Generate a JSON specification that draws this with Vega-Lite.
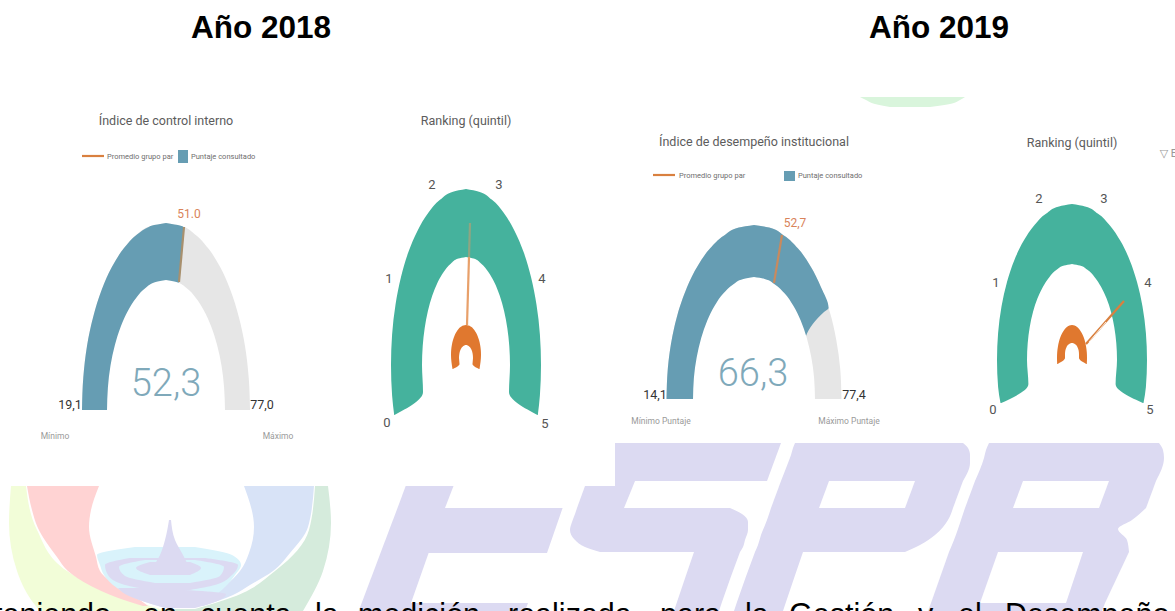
{"$schema":"https://vega.github.io/schema/vega-lite/v6.json","width":1175,"height":611,"padding":0,"autosize":{"type":"none"},"background":"white","config":{"view":{"stroke":null}},
"resolve":{"scale":{"color":"independent"}},
"encoding":{"x":{"field":"x","type":"quantitative","axis":null,"scale":{"domain":[0,1175],"nice":false,"zero":false}},"y":{"field":"y","type":"quantitative","axis":null,"scale":{"domain":[0,611],"reverse":true,"nice":false,"zero":false}}},
"layer":[
{"data":{"values":[
{"f":"sliver","t":"verdeclaro","y":97,"x":860,"x2":965},{"f":"sliver","t":"verdeclaro","y":100,"x":866,"x2":960},{"f":"sliver","t":"verdeclaro","y":104,"x":875,"x2":950},{"f":"sliver","t":"verdeclaro","y":107,"x":890,"x2":930},
{"f":"e1","t":"lavanda","y":486,"x":405.7,"x2":453.5},{"f":"e1","t":"lavanda","y":508,"x":397.5,"x2":445},
{"f":"e2","t":"lavanda","y":508,"x":397.5,"x2":562.6},{"f":"e2","t":"lavanda","y":553,"x":380.5,"x2":547},
{"f":"e3","t":"lavanda","y":553,"x":380.5,"x2":428.6},{"f":"e3","t":"lavanda","y":603,"x":361.7,"x2":411},
{"f":"e4","t":"lavanda","y":603,"x":361.7,"x2":528},{"f":"e4","t":"lavanda","y":611,"x":358.6,"x2":525},
{"f":"s1","t":"lavanda","y":443,"x":615,"x2":781},{"f":"s1","t":"lavanda","y":481,"x":615,"x2":767},
{"f":"s2","t":"lavanda","y":481,"x":615,"x2":635},{"f":"s2","t":"lavanda","y":486,"x":615,"x2":633},
{"f":"s3","t":"lavanda","y":486,"x":585,"x2":633},{"f":"s3","t":"lavanda","y":508,"x":577,"x2":624},
{"f":"s4","t":"lavanda","y":508,"x":577,"x2":730},{"f":"s4","t":"lavanda","y":514,"x":575,"x2":742},{"f":"s4","t":"lavanda","y":522,"x":572,"x2":748},{"f":"s4","t":"lavanda","y":530,"x":570,"x2":748},{"f":"s4","t":"lavanda","y":540,"x":575,"x2":745},{"f":"s4","t":"lavanda","y":547,"x":585,"x2":743},{"f":"s4","t":"lavanda","y":552,"x":600,"x2":740},
{"f":"s5","t":"lavanda","y":552,"x":694,"x2":740},{"f":"s5","t":"lavanda","y":602,"x":677,"x2":722},{"f":"s5","t":"lavanda","y":611,"x":674,"x2":719},
{"f":"p1","t":"lavanda","y":443,"x":795,"x2":963},{"f":"p1","t":"lavanda","y":448,"x":793,"x2":968},{"f":"p1","t":"lavanda","y":455,"x":791,"x2":970},{"f":"p1","t":"lavanda","y":463,"x":788,"x2":970},{"f":"p1","t":"lavanda","y":481,"x":781,"x2":963},
{"f":"p2","t":"lavanda","y":481,"x":781,"x2":829},{"f":"p2","t":"lavanda","y":508,"x":771,"x2":819},
{"f":"p3","t":"lavanda","y":481,"x":915,"x2":963},{"f":"p3","t":"lavanda","y":508,"x":905,"x2":953},
{"f":"p4","t":"lavanda","y":508,"x":771,"x2":953},{"f":"p4","t":"lavanda","y":520,"x":767,"x2":948},{"f":"p4","t":"lavanda","y":535,"x":761,"x2":935},{"f":"p4","t":"lavanda","y":545,"x":758,"x2":920},{"f":"p4","t":"lavanda","y":552,"x":755,"x2":905},
{"f":"p5","t":"lavanda","y":552,"x":755,"x2":803},{"f":"p5","t":"lavanda","y":602,"x":737,"x2":786},{"f":"p5","t":"lavanda","y":611,"x":734,"x2":783},
{"f":"b1","t":"lavanda","y":443,"x":989,"x2":1159},{"f":"b1","t":"lavanda","y":450,"x":986,"x2":1163},{"f":"b1","t":"lavanda","y":458,"x":984,"x2":1164},{"f":"b1","t":"lavanda","y":481,"x":975,"x2":1156},
{"f":"b2","t":"lavanda","y":481,"x":975,"x2":1023},{"f":"b2","t":"lavanda","y":508,"x":965,"x2":1013},
{"f":"b3","t":"lavanda","y":481,"x":1109,"x2":1156},{"f":"b3","t":"lavanda","y":508,"x":1099,"x2":1146},
{"f":"b4","t":"lavanda","y":508,"x":965,"x2":1146},{"f":"b4","t":"lavanda","y":520,"x":961,"x2":1132},{"f":"b4","t":"lavanda","y":529,"x":958,"x2":1118},{"f":"b4","t":"lavanda","y":540,"x":954,"x2":1127},{"f":"b4","t":"lavanda","y":552,"x":949,"x2":1129},
{"f":"b5","t":"lavanda","y":552,"x":949,"x2":998},{"f":"b5","t":"lavanda","y":603,"x":931,"x2":980},
{"f":"b6","t":"lavanda","y":552,"x":1083,"x2":1129},{"f":"b6","t":"lavanda","y":603,"x":1066,"x2":1105},
{"f":"b7","t":"lavanda","y":603,"x":931,"x2":1105},{"f":"b7","t":"lavanda","y":611,"x":928,"x2":1102},
{"f":"la","t":"amarillo","y":486,"x":11,"x2":170},{"f":"la","t":"amarillo","y":523,"x":9,"x2":170},{"f":"la","t":"amarillo","y":571,"x":17,"x2":170},{"f":"la","t":"amarillo","y":605,"x":35,"x2":170},{"f":"la","t":"amarillo","y":611,"x":40,"x2":170},
{"f":"lb","t":"verdelogo","y":486,"x":170,"x2":328},{"f":"lb","t":"verdelogo","y":523,"x":170,"x2":331},{"f":"lb","t":"verdelogo","y":571,"x":170,"x2":323},{"f":"lb","t":"verdelogo","y":611,"x":170,"x2":303},
{"f":"lc","t":"blanco","y":486,"x":26,"x2":315},{"f":"lc","t":"blanco","y":530,"x":37,"x2":309},{"f":"lc","t":"blanco","y":571,"x":67,"x2":275},{"f":"lc","t":"blanco","y":597,"x":122,"x2":233},{"f":"lc","t":"blanco","y":609,"x":160,"x2":195},
{"f":"ld","t":"rosa","y":486,"x":27,"x2":99},{"f":"ld","t":"rosa","y":510,"x":32,"x2":91},{"f":"ld","t":"rosa","y":527,"x":37.5,"x2":89},{"f":"ld","t":"rosa","y":557,"x":57,"x2":96},{"f":"ld","t":"rosa","y":571,"x":68,"x2":100},{"f":"ld","t":"rosa","y":586,"x":91,"x2":117},{"f":"ld","t":"rosa","y":600,"x":124,"x2":140},{"f":"ld","t":"rosa","y":606,"x":143,"x2":148},
{"f":"le","t":"azulclaro","y":486,"x":244,"x2":314},{"f":"le","t":"azulclaro","y":527,"x":254,"x2":308},{"f":"le","t":"azulclaro","y":553,"x":249,"x2":290},{"f":"le","t":"azulclaro","y":571,"x":240,"x2":273},{"f":"le","t":"azulclaro","y":585,"x":226,"x2":250},{"f":"le","t":"azulclaro","y":595,"x":212,"x2":233},{"f":"le","t":"azulclaro","y":606,"x":197,"x2":203},
{"f":"lf","t":"cian","y":547,"x":135,"x2":195},{"f":"lf","t":"cian","y":555,"x":97,"x2":232},{"f":"lf","t":"cian","y":565,"x":100,"x2":241},{"f":"lf","t":"cian","y":575,"x":104,"x2":235},{"f":"lf","t":"cian","y":588,"x":117,"x2":224},{"f":"lf","t":"cian","y":600,"x":140,"x2":208},{"f":"lf","t":"cian","y":608,"x":165,"x2":190},
{"f":"lg","t":"lavanda","y":558,"x":130,"x2":205},{"f":"lg","t":"lavanda","y":565,"x":105,"x2":238},{"f":"lg","t":"lavanda","y":575,"x":108,"x2":232},{"f":"lg","t":"lavanda","y":585,"x":125,"x2":215},{"f":"lg","t":"lavanda","y":590,"x":150,"x2":190},
{"f":"lh","t":"cian","y":560,"x":145,"x2":195},{"f":"lh","t":"cian","y":567,"x":119,"x2":224},{"f":"lh","t":"cian","y":576,"x":125,"x2":220},{"f":"lh","t":"cian","y":583,"x":155,"x2":190},
{"f":"li","t":"lavanda","y":562,"x":150,"x2":190},{"f":"li","t":"lavanda","y":568,"x":136,"x2":201},{"f":"li","t":"lavanda","y":575,"x":150,"x2":190},
{"f":"lj","t":"lavanda","y":588,"x":118,"x2":150},{"f":"lj","t":"lavanda","y":594,"x":125,"x2":226},{"f":"lj","t":"lavanda","y":602,"x":145,"x2":215},{"f":"lj","t":"lavanda","y":608,"x":165,"x2":195},
{"f":"lk","t":"lavanda","y":520,"x":169,"x2":171},{"f":"lk","t":"lavanda","y":540,"x":165,"x2":175},{"f":"lk","t":"lavanda","y":555,"x":160,"x2":183},{"f":"lk","t":"lavanda","y":567,"x":153,"x2":189},
{"f":"g1g","t":"gris","y":223,"x":166,"x2":166},{"f":"g1g","t":"gris","y":225.8,"x":151.4,"x2":180.6},{"f":"g1g","t":"gris","y":234.2,"x":137.3,"x2":194.7},{"f":"g1g","t":"gris","y":248.1,"x":124,"x2":208},{"f":"g1g","t":"gris","y":266.8,"x":112,"x2":220},{"f":"g1g","t":"gris","y":289.8,"x":101.7,"x2":230.3},{"f":"g1g","t":"gris","y":316.5,"x":93.3,"x2":238.7},{"f":"g1g","t":"gris","y":346,"x":87,"x2":245},{"f":"g1g","t":"gris","y":377.5,"x":83.3,"x2":248.7},{"f":"g1g","t":"gris","y":410,"x":82,"x2":250},
{"f":"g1b","t":"azul","y":223,"x":166,"x2":166},{"f":"g1b","t":"azul","y":225.8,"x":151.4,"x2":180.6},{"f":"g1b","t":"azul","y":227,"x":148.7,"x2":183.3},{"f":"g1b","t":"azul","y":234.2,"x":137.3,"x2":183.3},{"f":"g1b","t":"azul","y":248.1,"x":124,"x2":182},{"f":"g1b","t":"azul","y":266.8,"x":112,"x2":180.4},{"f":"g1b","t":"azul","y":289.8,"x":101.7,"x2":178.3},{"f":"g1b","t":"azul","y":316.5,"x":93.3,"x2":178},{"f":"g1b","t":"azul","y":346,"x":87,"x2":178},{"f":"g1b","t":"azul","y":377.5,"x":83.3,"x2":178},{"f":"g1b","t":"azul","y":410,"x":82,"x2":178},
{"f":"g1w","t":"blanco","y":280,"x":166,"x2":166},{"f":"g1w","t":"blanco","y":282,"x":155.7,"x2":176.3},{"f":"g1w","t":"blanco","y":287.8,"x":145.8,"x2":186.2},{"f":"g1w","t":"blanco","y":297.4,"x":136.5,"x2":195.5},{"f":"g1w","t":"blanco","y":310.4,"x":128.1,"x2":203.9},{"f":"g1w","t":"blanco","y":326.4,"x":120.8,"x2":211.2},{"f":"g1w","t":"blanco","y":345,"x":114.9,"x2":217.1},{"f":"g1w","t":"blanco","y":365.5,"x":110.5,"x2":221.5},{"f":"g1w","t":"blanco","y":387.4,"x":107.9,"x2":224.1},{"f":"g1w","t":"blanco","y":410.5,"x":107,"x2":225},
{"f":"g2","t":"verde","y":189,"x":466,"x2":466},{"f":"g2","t":"verde","y":191.7,"x":453,"x2":479},{"f":"g2","t":"verde","y":199.6,"x":440.3,"x2":491.7},{"f":"g2","t":"verde","y":212.6,"x":428.5,"x2":503.5},{"f":"g2","t":"verde","y":230.2,"x":417.8,"x2":514.2},{"f":"g2","t":"verde","y":251.8,"x":408.5,"x2":523.5},{"f":"g2","t":"verde","y":277,"x":401,"x2":531},{"f":"g2","t":"verde","y":304.8,"x":395.5,"x2":536.5},{"f":"g2","t":"verde","y":334.4,"x":392.1,"x2":539.9},{"f":"g2","t":"verde","y":365,"x":391,"x2":541},{"f":"g2","t":"verde","y":395.6,"x":392.1,"x2":539.9},{"f":"g2","t":"verde","y":415,"x":394.2,"x2":537.8},
{"f":"g2w","t":"blanco","y":257,"x":466,"x2":466},{"f":"g2w","t":"blanco","y":258.6,"x":458.4,"x2":473.6},{"f":"g2w","t":"blanco","y":263.5,"x":451,"x2":481},{"f":"g2w","t":"blanco","y":271.5,"x":444,"x2":488},{"f":"g2w","t":"blanco","y":282.3,"x":437.7,"x2":494.3},{"f":"g2w","t":"blanco","y":295.6,"x":432.3,"x2":499.7},{"f":"g2w","t":"blanco","y":311,"x":427.9,"x2":504.1},{"f":"g2w","t":"blanco","y":328.1,"x":424.7,"x2":507.3},{"f":"g2w","t":"blanco","y":346.2,"x":422.7,"x2":509.3},{"f":"g2w","t":"blanco","y":365,"x":422,"x2":510},{"f":"g2w","t":"blanco","y":392,"x":423,"x2":509},{"f":"g2w","t":"blanco","y":415.5,"x":393.6,"x2":538.4},
{"f":"h1","t":"naranja","y":325,"x":466,"x2":466},{"f":"h1","t":"naranja","y":325.5,"x":463.4,"x2":468.6},{"f":"h1","t":"naranja","y":326.8,"x":460.9,"x2":471.1},{"f":"h1","t":"naranja","y":329,"x":458.5,"x2":473.5},{"f":"h1","t":"naranja","y":332,"x":456.4,"x2":475.6},{"f":"h1","t":"naranja","y":335.7,"x":454.5,"x2":477.5},{"f":"h1","t":"naranja","y":340,"x":453,"x2":479},{"f":"h1","t":"naranja","y":344.7,"x":451.9,"x2":480.1},{"f":"h1","t":"naranja","y":349.8,"x":451.2,"x2":480.8},{"f":"h1","t":"naranja","y":355,"x":451,"x2":481},{"f":"h1","t":"naranja","y":369,"x":452.5,"x2":479.5},
{"f":"h1w","t":"blanco","y":345,"x":466,"x2":466},{"f":"h1w","t":"blanco","y":345.2,"x":464.8,"x2":467.2},{"f":"h1w","t":"blanco","y":346.7,"x":462.5,"x2":469.5},{"f":"h1w","t":"blanco","y":349.6,"x":460.6,"x2":471.4},{"f":"h1w","t":"blanco","y":353.6,"x":459.4,"x2":472.6},{"f":"h1w","t":"blanco","y":358,"x":459,"x2":473},{"f":"h1w","t":"blanco","y":364,"x":459.5,"x2":472.5},{"f":"h1w","t":"blanco","y":369.5,"x":452,"x2":480},
{"f":"g3g","t":"gris","y":225,"x":754,"x2":754},{"f":"g3g","t":"gris","y":227.6,"x":738.8,"x2":769.2},{"f":"g3g","t":"gris","y":235.5,"x":724.1,"x2":783.9},{"f":"g3g","t":"gris","y":248.3,"x":710.2,"x2":797.8},{"f":"g3g","t":"gris","y":265.7,"x":697.8,"x2":810.2},{"f":"g3g","t":"gris","y":287.2,"x":687,"x2":821},{"f":"g3g","t":"gris","y":312,"x":678.2,"x2":829.8},{"f":"g3g","t":"gris","y":339.5,"x":671.8,"x2":836.2},{"f":"g3g","t":"gris","y":368.8,"x":667.8,"x2":840.2},{"f":"g3g","t":"gris","y":399,"x":666.5,"x2":841.5},
{"f":"g3b","t":"azul","y":225,"x":754,"x2":754},{"f":"g3b","t":"azul","y":227.6,"x":738.8,"x2":769.2},{"f":"g3b","t":"azul","y":235.5,"x":724.1,"x2":783.9},{"f":"g3b","t":"azul","y":248.3,"x":710.2,"x2":797.8},{"f":"g3b","t":"azul","y":265.7,"x":697.8,"x2":810.2},{"f":"g3b","t":"azul","y":287.2,"x":687,"x2":821},{"f":"g3b","t":"azul","y":308,"x":679.4,"x2":828.6},{"f":"g3b","t":"azul","y":312,"x":678.2,"x2":824},{"f":"g3b","t":"azul","y":336,"x":672.4,"x2":806},{"f":"g3b","t":"azul","y":368.8,"x":667.8,"x2":800},{"f":"g3b","t":"azul","y":399,"x":666.5,"x2":800},
{"f":"g3w","t":"blanco","y":277,"x":754,"x2":754},{"f":"g3w","t":"blanco","y":278.9,"x":743.4,"x2":764.6},{"f":"g3w","t":"blanco","y":284.4,"x":733.1,"x2":774.9},{"f":"g3w","t":"blanco","y":293.3,"x":723.5,"x2":784.5},{"f":"g3w","t":"blanco","y":305.5,"x":714.8,"x2":793.2},{"f":"g3w","t":"blanco","y":320.6,"x":707.3,"x2":800.7},{"f":"g3w","t":"blanco","y":338,"x":701.2,"x2":806.8},{"f":"g3w","t":"blanco","y":357.3,"x":696.7,"x2":811.3},{"f":"g3w","t":"blanco","y":377.8,"x":693.9,"x2":814.1},{"f":"g3w","t":"blanco","y":399.5,"x":693,"x2":815},
{"f":"g4","t":"verde","y":204,"x":1072,"x2":1072},{"f":"g4","t":"verde","y":206.4,"x":1059,"x2":1085},{"f":"g4","t":"verde","y":213.4,"x":1046.3,"x2":1097.7},{"f":"g4","t":"verde","y":224.9,"x":1034.5,"x2":1109.5},{"f":"g4","t":"verde","y":240.5,"x":1023.8,"x2":1120.2},{"f":"g4","t":"verde","y":259.7,"x":1014.5,"x2":1129.5},{"f":"g4","t":"verde","y":282,"x":1007,"x2":1137},{"f":"g4","t":"verde","y":306.6,"x":1001.5,"x2":1142.5},{"f":"g4","t":"verde","y":332.9,"x":998.1,"x2":1145.9},{"f":"g4","t":"verde","y":360,"x":997,"x2":1147},{"f":"g4","t":"verde","y":387.1,"x":998.1,"x2":1145.9},{"f":"g4","t":"verde","y":403,"x":1000.5,"x2":1143.5},
{"f":"g4w","t":"blanco","y":264,"x":1072,"x2":1072},{"f":"g4w","t":"blanco","y":265.5,"x":1064.2,"x2":1079.8},{"f":"g4w","t":"blanco","y":269.8,"x":1056.6,"x2":1087.4},{"f":"g4w","t":"blanco","y":276.9,"x":1049.5,"x2":1094.5},{"f":"g4w","t":"blanco","y":286.5,"x":1043.1,"x2":1100.9},{"f":"g4w","t":"blanco","y":298.3,"x":1037.5,"x2":1106.5},{"f":"g4w","t":"blanco","y":312,"x":1033,"x2":1111},{"f":"g4w","t":"blanco","y":327.2,"x":1029.7,"x2":1114.3},{"f":"g4w","t":"blanco","y":343.3,"x":1027.7,"x2":1116.3},{"f":"g4w","t":"blanco","y":360,"x":1027,"x2":1117},{"f":"g4w","t":"blanco","y":384,"x":1028.4,"x2":1115.6},{"f":"g4w","t":"blanco","y":403.5,"x":1000,"x2":1144},
{"f":"h2","t":"naranja","y":325,"x":1072,"x2":1072},{"f":"h2","t":"naranja","y":325.5,"x":1069.4,"x2":1074.6},{"f":"h2","t":"naranja","y":327,"x":1066.9,"x2":1077.1},{"f":"h2","t":"naranja","y":329.4,"x":1064.5,"x2":1079.5},{"f":"h2","t":"naranja","y":332.7,"x":1062.4,"x2":1081.6},{"f":"h2","t":"naranja","y":336.8,"x":1060.5,"x2":1083.5},{"f":"h2","t":"naranja","y":341.5,"x":1059,"x2":1085},{"f":"h2","t":"naranja","y":346.7,"x":1057.9,"x2":1086.1},{"f":"h2","t":"naranja","y":352.3,"x":1057.2,"x2":1086.8},{"f":"h2","t":"naranja","y":358,"x":1057,"x2":1087},{"f":"h2","t":"naranja","y":364,"x":1057.2,"x2":1086.8},
{"f":"h2w","t":"blanco","y":343,"x":1072,"x2":1072},{"f":"h2w","t":"blanco","y":343.2,"x":1070.8,"x2":1073.2},{"f":"h2w","t":"blanco","y":344.5,"x":1068.5,"x2":1075.5},{"f":"h2w","t":"blanco","y":346.9,"x":1066.6,"x2":1077.4},{"f":"h2w","t":"blanco","y":350.2,"x":1065.4,"x2":1078.6},{"f":"h2w","t":"blanco","y":354,"x":1065,"x2":1079},{"f":"h2w","t":"blanco","y":358,"x":1065,"x2":1079},{"f":"h2w","t":"blanco","y":364.5,"x":1056.5,"x2":1087.5},
{"f":"ley1","t":"azul","y":150,"x":178,"x2":188},{"f":"ley1","t":"azul","y":163,"x":178,"x2":188},
{"f":"ley2","t":"azul","y":171,"x":784,"x2":795},{"f":"ley2","t":"azul","y":181,"x":784,"x2":795}
]},
"mark":{"type":"area","orient":"horizontal","opacity":1,"interpolate":"monotone"},
"encoding":{"x2":{"field":"x2"},"detail":{"field":"f"},"color":{"field":"t","type":"nominal","legend":null,"scale":{"domain":["verdeclaro","lavanda","amarillo","verdelogo","blanco","rosa","azulclaro","cian","gris","azul","verde","naranja"],"range":["#d9f5dc","#dcdaf2","#f2fdd8","#d5ebdc","#ffffff","#ffd3d3","#d8e3f7","#d9f3fb","#e6e6e6","#669db3","#45b29d","#e0782f"]}}}},
{"data":{"values":[
{"f":"n1","t":"a","x":184,"y":227},{"f":"n1","t":"a","x":179,"y":282},
{"f":"n3","t":"b","x":782,"y":235},{"f":"n3","t":"b","x":774,"y":283},
{"f":"n2a","t":"c","x":470,"y":223},{"f":"n2a","t":"c","x":469,"y":257},
{"f":"n2b","t":"d","x":469,"y":257},{"f":"n2b","t":"d","x":467,"y":325},
{"f":"n4","t":"e","x":1086,"y":344},{"f":"n4","t":"e","x":1124,"y":301},
{"f":"l1","t":"e","x":82,"y":156},{"f":"l1","t":"e","x":104,"y":156},
{"f":"l2","t":"e","x":653,"y":175},{"f":"l2","t":"e","x":675,"y":175}
]},
"mark":{"type":"line","strokeWidth":2.2},
"encoding":{"detail":{"field":"f"},"color":{"field":"t","type":"nominal","legend":null,"scale":{"domain":["a","b","c","d","e"],"range":["#a8906e","#c98a5e","#8fa582","#e8a06a","#d9803f"]}}}},
{"data":{"values":[{"f":"n4w","x":1089,"y":342},{"f":"n4w","x":1106,"y":322}]},"mark":{"type":"line","strokeWidth":1,"color":"#fbeee2"},"encoding":{"detail":{"field":"f"}}},
{"data":{"values":[{"x":261,"y":38,"s":"Año 2018"},{"x":939,"y":38,"s":"Año 2019"}]},"mark":{"type":"text","font":"Liberation Sans","fontWeight":"bold","fontSize":31.5,"color":"#000000","baseline":"alphabetic"},"encoding":{"text":{"field":"s"}}},
{"data":{"values":[{"x":-6,"y":625,"s":"teniendo"},{"x":143,"y":625,"s":"en"},{"x":200,"y":625,"s":"cuenta"},{"x":315,"y":625,"s":"la"},{"x":358,"y":625,"s":"medición"},{"x":508,"y":625,"s":"realizada"},{"x":660,"y":625,"s":"para"},{"x":745,"y":625,"s":"la"},{"x":789,"y":625,"s":"Gestión"},{"x":918,"y":625,"s":"y"},{"x":958,"y":625,"s":"el"},{"x":1005,"y":625,"s":"Desempeño"}]},"mark":{"type":"text","font":"Liberation Sans","fontSize":30.5,"color":"#000000","baseline":"alphabetic","align":"left"},"encoding":{"text":{"field":"s"}}},
{"data":{"values":[{"x":166,"y":125,"s":"Índice de control interno"},{"x":466,"y":125,"s":"Ranking (quintil)"},{"x":754,"y":146,"s":"Índice de desempeño institucional"},{"x":1072,"y":147,"s":"Ranking (quintil)"}]},"mark":{"type":"text","font":"Roboto","fontSize":12.5,"color":"#5c5c5c","baseline":"alphabetic"},"encoding":{"text":{"field":"s"}}},
{"data":{"values":[{"x":107,"y":159,"s":"Promedio grupo par"},{"x":191,"y":159,"s":"Puntaje consultado"},{"x":679,"y":178,"s":"Promedio grupo par"},{"x":798,"y":178,"s":"Puntaje consultado"}]},"mark":{"type":"text","font":"Roboto","fontSize":7.5,"color":"#6e6e6e","baseline":"alphabetic","align":"left"},"encoding":{"text":{"field":"s"}}},
{"data":{"values":[{"x":166,"y":396,"s":"52,3"},{"x":753,"y":386,"s":"66,3"}]},"mark":{"type":"text","font":"Roboto","fontWeight":300,"fontSize":38,"color":"#7fa9ba","baseline":"alphabetic"},"encoding":{"text":{"field":"s"}}},
{"data":{"values":[{"x":189,"y":218,"s":"51.0"},{"x":795,"y":227,"s":"52,7"}]},"mark":{"type":"text","font":"Roboto","fontSize":12,"color":"#d9835a","baseline":"alphabetic"},"encoding":{"text":{"field":"s"}}},
{"data":{"values":[{"x":70,"y":409,"s":"19,1"},{"x":262,"y":409,"s":"77,0"},{"x":655,"y":399,"s":"14,1"},{"x":854,"y":399,"s":"77,4"}]},"mark":{"type":"text","font":"Roboto","fontSize":12.5,"color":"#333333","baseline":"alphabetic"},"encoding":{"text":{"field":"s"}}},
{"data":{"values":[{"x":55,"y":439,"s":"Mínimo"},{"x":278,"y":439,"s":"Máximo"},{"x":661,"y":424,"s":"Mínimo Puntaje"},{"x":849,"y":424,"s":"Máximo Puntaje"}]},"mark":{"type":"text","font":"Roboto","fontSize":8.5,"color":"#9a9a9a","baseline":"alphabetic"},"encoding":{"text":{"field":"s"}}},
{"data":{"values":[{"x":387,"y":427,"s":"0"},{"x":389,"y":283,"s":"1"},{"x":432,"y":189,"s":"2"},{"x":499,"y":189,"s":"3"},{"x":542,"y":283,"s":"4"},{"x":545,"y":428,"s":"5"},{"x":993,"y":414,"s":"0"},{"x":996,"y":287,"s":"1"},{"x":1039,"y":203,"s":"2"},{"x":1104,"y":203,"s":"3"},{"x":1148,"y":287,"s":"4"},{"x":1150,"y":414,"s":"5"}]},"mark":{"type":"text","font":"Roboto","fontSize":13,"color":"#555555","baseline":"alphabetic"},"encoding":{"text":{"field":"s"}}},
{"data":{"values":[{"x":1164,"y":157,"s":"▽"},{"x":1174,"y":157,"s":"E"}]},"mark":{"type":"text","font":"DejaVu Sans","fontSize":11,"color":"#999999","baseline":"alphabetic"},"encoding":{"text":{"field":"s"}}}
]}
